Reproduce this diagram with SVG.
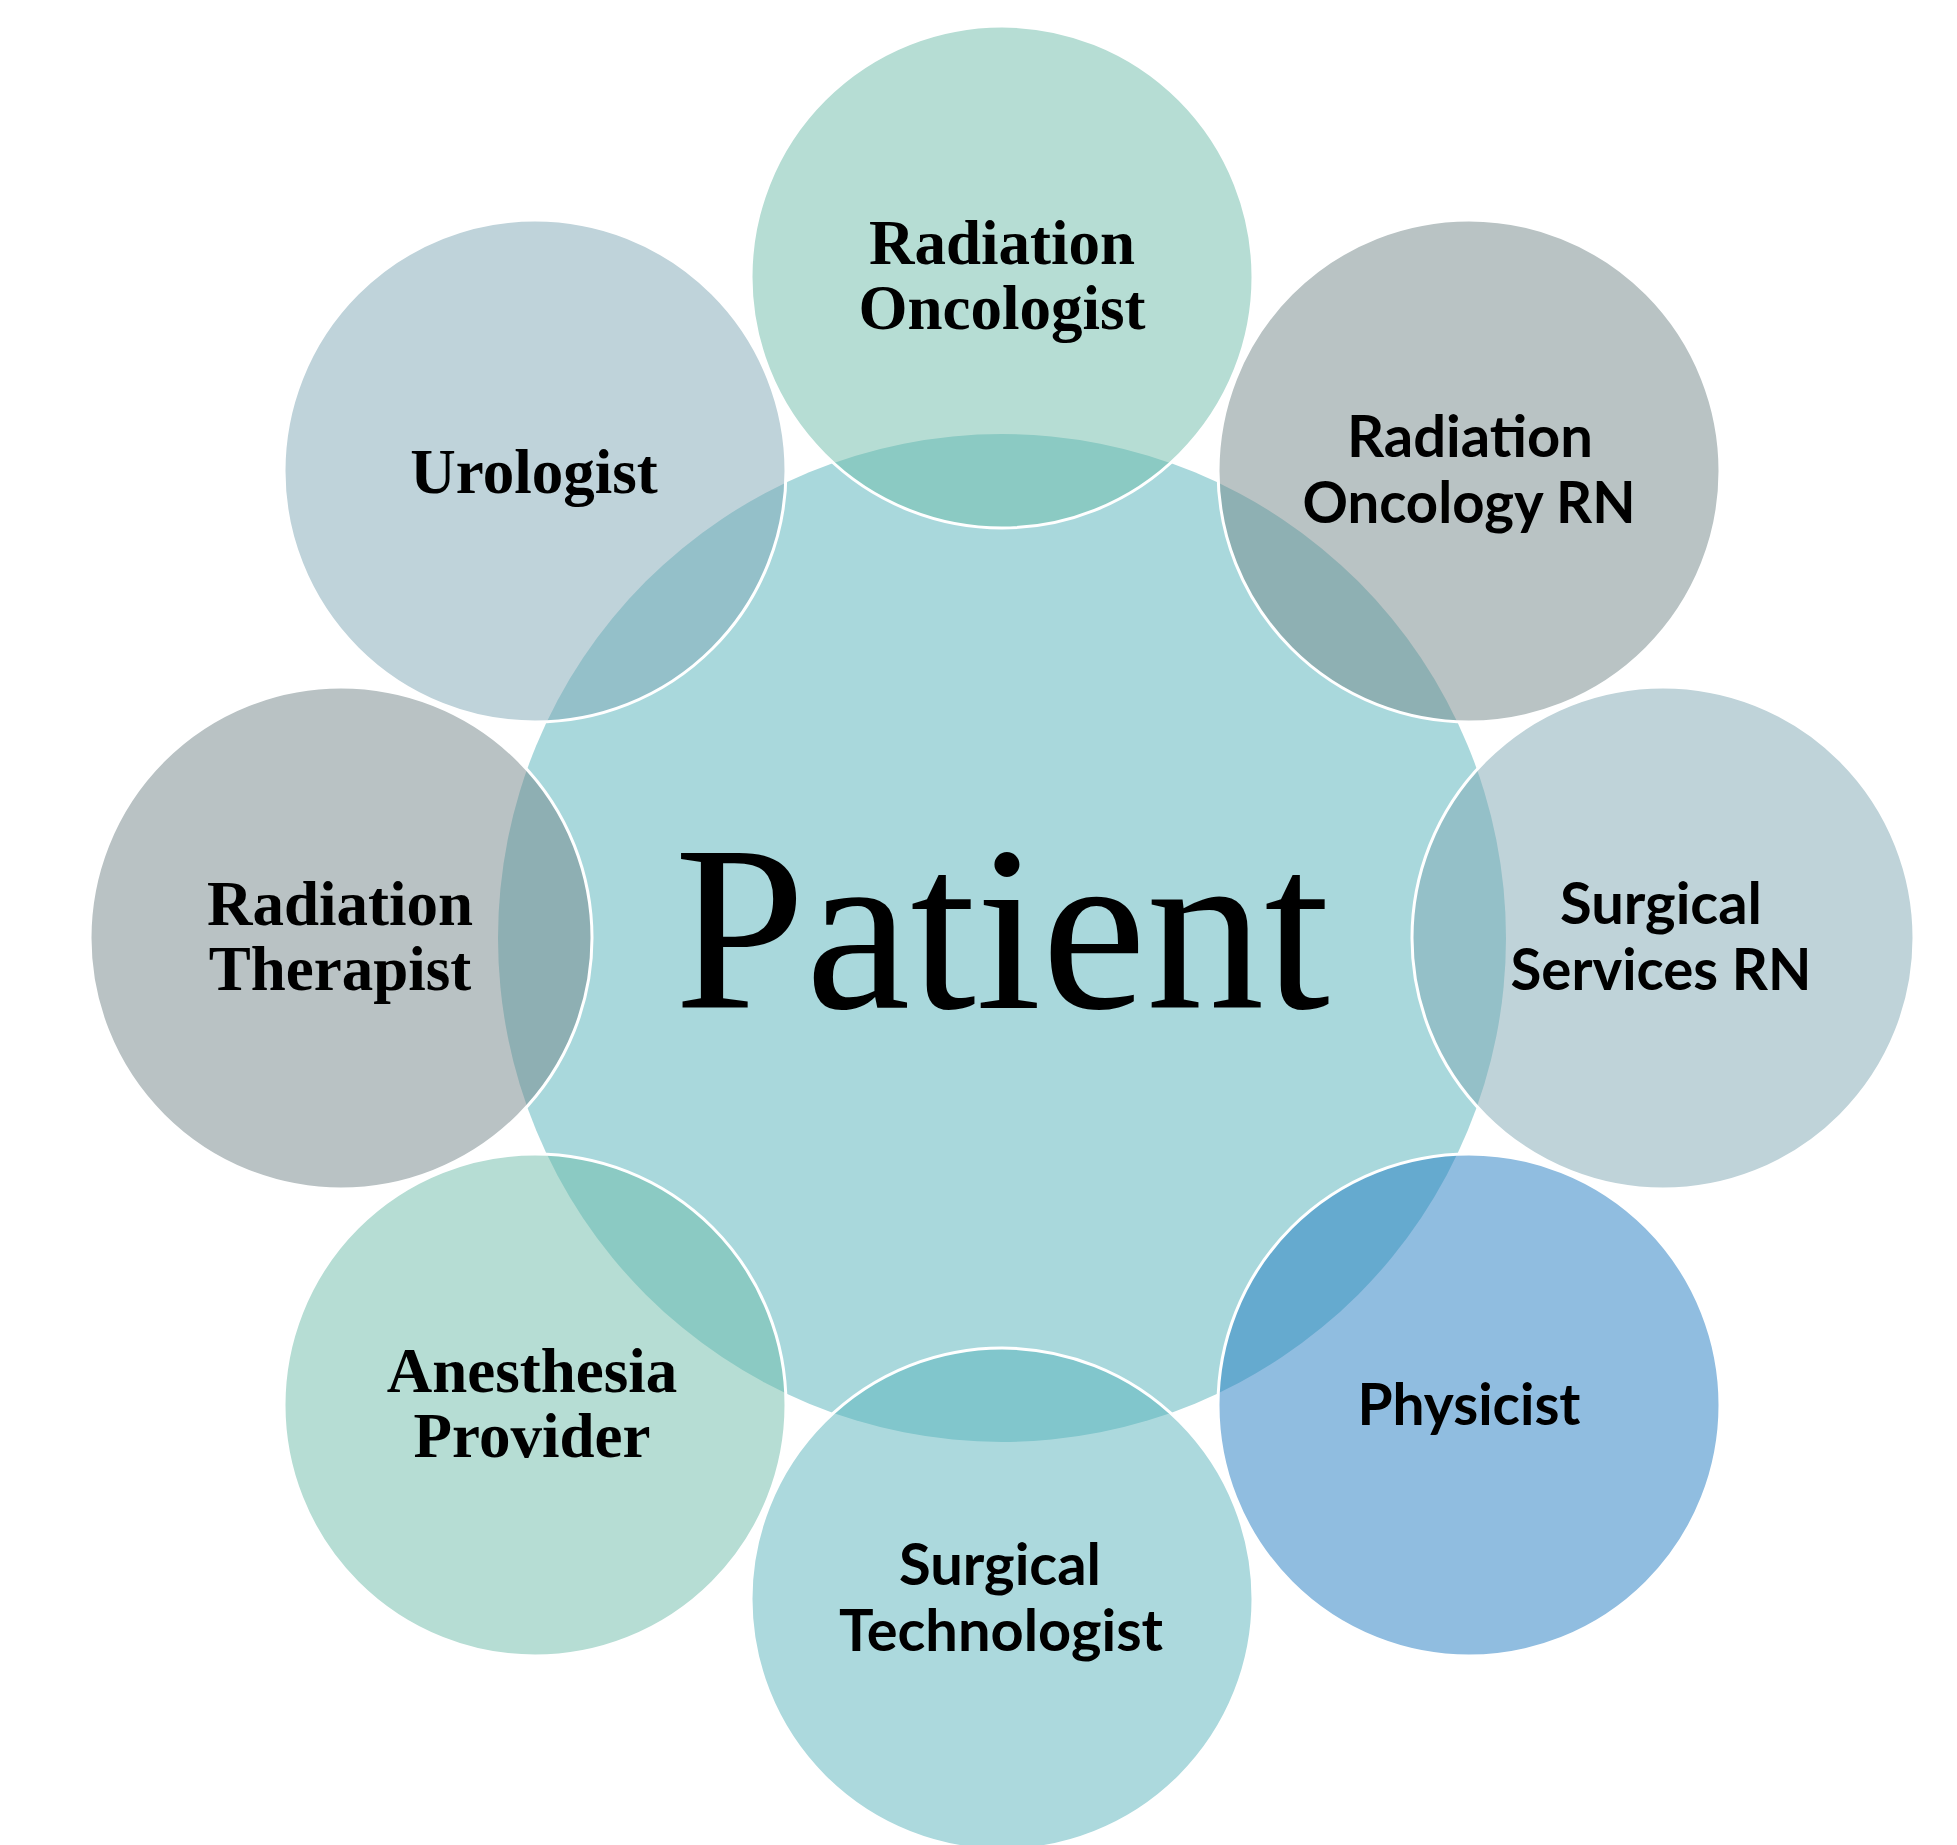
<svg xmlns="http://www.w3.org/2000/svg" width="1957" height="1845" viewBox="0 0 1957 1845">
  <style>
    .outer { stroke: #ffffff; stroke-width: 3; fill-opacity: 0.5; }
    .serif { font-family: "Liberation Serif", "Times New Roman", serif; font-weight: 700; font-size: 63px; fill: #000000; text-anchor: middle; }
    .sans { font-family: Lato, "Open Sans", "Liberation Sans", sans-serif; font-weight: 700; font-size: 58px; fill: #000000; text-anchor: middle; }
    .big { font-family: "Liberation Serif", "Times New Roman", serif; font-weight: 400; font-size: 236px; fill: #000000; text-anchor: middle; }
  </style>
  <rect x="0" y="0" width="1957" height="1845" fill="#ffffff"/>

  <g id="patient">
    <circle cx="1002" cy="938" r="504" fill="#a9d8dc"/>
  </g>

  <g id="radiation-oncologist">
    <circle class="outer" cx="1002" cy="277" r="251" fill="#6dbba9"/>
    <text class="serif" x="1002" y="264">Radiation</text>
    <text class="serif" x="1002" y="329">Oncologist</text>
  </g>

  <g id="radiation-oncology-rn">
    <circle class="outer" cx="1469" cy="471" r="251" fill="#738789"/>
    <text class="sans" x="1470" y="457" textLength="246" lengthAdjust="spacingAndGlyphs">Radiation</text>
    <text class="sans" x="1469" y="523" textLength="333" lengthAdjust="spacingAndGlyphs">Oncology RN</text>
  </g>

  <g id="surgical-services-rn">
    <circle class="outer" cx="1663" cy="938" r="251" fill="#7fa7b3"/>
    <text class="sans" x="1661" y="924" textLength="202" lengthAdjust="spacingAndGlyphs">Surgical</text>
    <text class="sans" x="1661" y="990" textLength="301" lengthAdjust="spacingAndGlyphs">Services RN</text>
  </g>

  <g id="physicist">
    <circle class="outer" cx="1469" cy="1405" r="251" fill="#217bc1"/>
    <text class="sans" x="1469" y="1425" textLength="223" lengthAdjust="spacingAndGlyphs">Physicist</text>
  </g>

  <g id="surgical-technologist">
    <circle class="outer" cx="1002" cy="1599" r="251" fill="#59b3bb"/>
    <text class="sans" x="1000" y="1585" textLength="202" lengthAdjust="spacingAndGlyphs">Surgical</text>
    <text class="sans" x="1001" y="1651" textLength="324" lengthAdjust="spacingAndGlyphs">Technologist</text>
  </g>

  <g id="anesthesia-provider">
    <circle class="outer" cx="535" cy="1405" r="251" fill="#6dbba9"/>
    <text class="serif" x="532" y="1392">Anesthesia</text>
    <text class="serif" x="532" y="1457">Provider</text>
  </g>

  <g id="radiation-therapist">
    <circle class="outer" cx="341" cy="938" r="251" fill="#738589"/>
    <text class="serif" x="340" y="925">Radiation</text>
    <text class="serif" x="340" y="990">Therapist</text>
  </g>

  <g id="urologist">
    <circle class="outer" cx="535" cy="471" r="251" fill="#7fa7b5"/>
    <text class="serif" x="534" y="493">Urologist</text>
  </g>

  <g id="patient-label">
    <text class="big" x="1002" y="1008">Patient</text>
  </g>

  <g id="connectors"/>
</svg>
